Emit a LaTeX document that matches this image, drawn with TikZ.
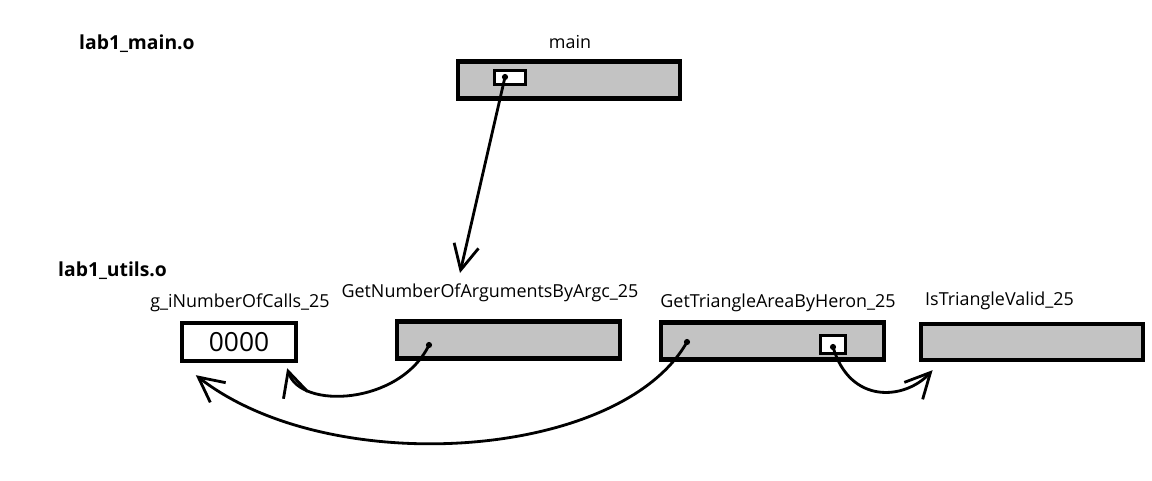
\documentclass[tikz,border=0pt]{standalone}
\usepackage{fontspec}
\setmainfont{Open Sans}
\usetikzlibrary{arrows.meta,positioning}
\definecolor{boxgray}{HTML}{C3C3C3}

\begin{document}
\begin{tikzpicture}[
  x=0.02cm, y=-0.02cm,
  every node/.style={font=\fontsize{10.2}{12}\selectfont},
  fnbox/.style={draw=black, fill=boxgray, line width=2.5pt, minimum width=4.45cm, minimum height=0.74cm, inner sep=0pt},
  varbox/.style={draw=black, fill=white, line width=2.5pt, minimum width=2.28cm, minimum height=0.76cm, inner sep=0pt, font=\fontsize{15}{18}\selectfont},
  slot/.style={draw=black, fill=white, line width=1.6pt, inner sep=0pt},
  objname/.style={font=\fontsize{11}{13}\selectfont\bfseries, anchor=west},
  ptr/.style={circle, fill=black, inner sep=0pt, minimum size=3.5pt},
  call/.style={-{Straight Barb[length=5mm, width=5mm]}, line width=1.6pt}
]
\useasboundingbox (0,0) rectangle (1152,480);

% object files
\node[objname] (mainobj) at (73,44) {lab1\_main.o};
\node[objname] (utilsobj) at (52,271) {lab1\_utils.o};

% lab1_main.o
\node[fnbox] (mainfn) at (569,80) {};
\node (mainlbl) at (570,42) {main};
\node[slot, minimum width=0.62cm, minimum height=0.28cm] (mainslot) at (510,77.5) {};
\node[ptr] (mainptr) at (505,77) {};

% lab1_utils.o
\node[varbox] (gvar) at (239,342) {0000};
\node (gvarlbl) at (240,303) {g\_iNumberOfCalls\_25};

\node[fnbox] (argcfn) at (508.5,340) {};
\node (argclbl) at (490,293) {GetNumberOfArgumentsByArgc\_25};
\node[ptr] (argcptr) at (429,345) {};

\node[fnbox] (heronfn) at (772.5,341) {};
\node (heronlbl) at (778,303) {GetTriangleAreaByHeron\_25};
\node[ptr] (heronptr) at (687,342) {};
\node[slot, minimum width=0.5cm, minimum height=0.36cm] (heronslot) at (833,344.5) {};
\node[ptr] (heronslotptr) at (833,347) {};

\node[fnbox, minimum height=0.72cm] (validfn) at (1032,342) {};
\node[anchor=west] (validlbl) at (919,301) {IsTriangleValid\_25};

% relocations
\coordinate (argctarget) at (460,273);
\draw[call] (mainptr.center) -- (argctarget);
\draw[call] (argcptr.center) .. controls (400,405) and (300,410) .. ([xshift=-2.2mm,yshift=-1mm]gvar.south east);
\draw[call] (heronptr.center) .. controls (620,460) and (330,480) .. ([xshift=3.2mm,yshift=-2.4mm]gvar.south west);
\draw[call] (heronslotptr.center) .. controls (850,405) and (905,400) .. ([xshift=2.8mm,yshift=-1.6mm]validfn.south west);

\end{tikzpicture}
\end{document}
